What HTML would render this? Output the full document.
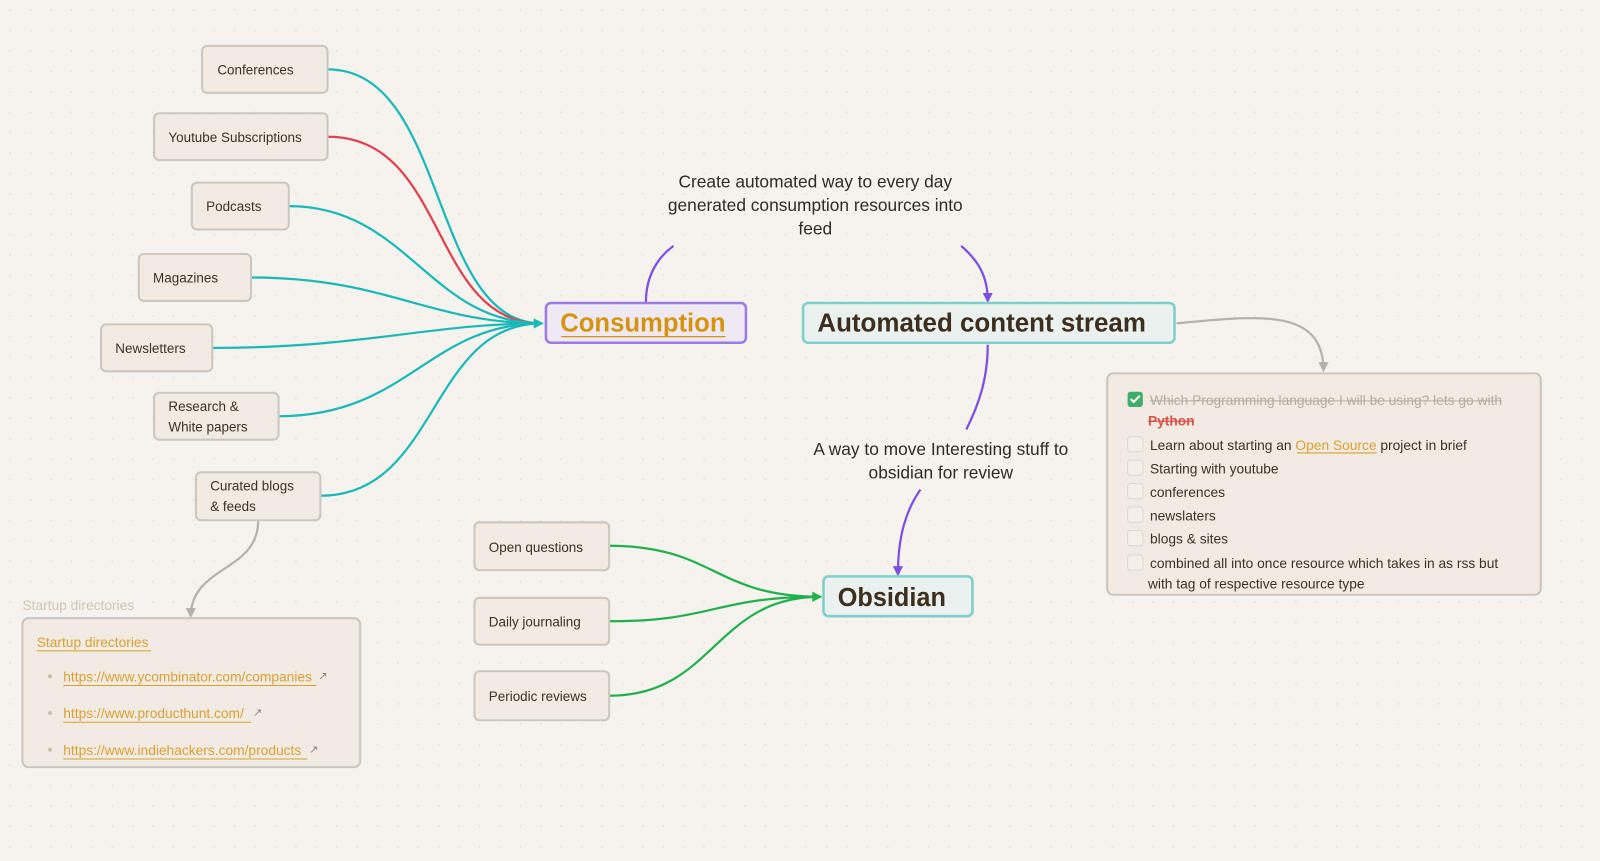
<!DOCTYPE html>
<html><head><meta charset="utf-8"><style>
html,body{margin:0;padding:0;background:#f6f3ee;}
svg{display:block;}
text{font-family:"Liberation Sans",sans-serif;}
</style></head><body>
<svg width="1600" height="861" viewBox="0 0 1568 844" preserveAspectRatio="none" xmlns="http://www.w3.org/2000/svg">
<defs>
<pattern id="dots" width="20" height="20" patternUnits="userSpaceOnUse"><circle cx="10" cy="10" r="0.8" fill="#e2ddd5"/></pattern>
<marker id="ac" markerWidth="10" markerHeight="10" refX="8" refY="5" orient="auto" markerUnits="userSpaceOnUse"><path d="M0,0 L10,5 L0,10 z" fill="#1bb8b8"/></marker>
<marker id="ag" markerWidth="10" markerHeight="10" refX="8" refY="5" orient="auto" markerUnits="userSpaceOnUse"><path d="M0,0 L10,5 L0,10 z" fill="#22b04e"/></marker>
<marker id="ap" markerWidth="10" markerHeight="10" refX="8" refY="5" orient="auto" markerUnits="userSpaceOnUse"><path d="M0,0 L10,5 L0,10 z" fill="#7c4fe0"/></marker>
<marker id="ay" markerWidth="10" markerHeight="10" refX="8" refY="5" orient="auto" markerUnits="userSpaceOnUse"><path d="M0,0 L10,5 L0,10 z" fill="#b5b1ab"/></marker>
</defs>
<rect width="1568" height="844" fill="#f6f3ee"/>
<rect width="1568" height="844" fill="url(#dots)"/>

<g fill="none" stroke-width="2.2">
<path d="M321,68 C440,68 420,317 531,317" stroke="#1bb8b8"/>
<path d="M321,134 C440,134 420,317 531,317" stroke="#e0404e"/>
<path d="M283,202 C400,202 420,317 531,317" stroke="#1bb8b8"/>
<path d="M246,272 C380,272 420,317 531,317" stroke="#1bb8b8"/>
<path d="M208,341 C360,341 420,317 531,317" stroke="#1bb8b8"/>
<path d="M273,408 C400,408 420,317 531,317" stroke="#1bb8b8"/>
<path d="M314,486 C430,486 420,317 531,317" stroke="#1bb8b8" marker-end="url(#ac)"/>
<path d="M597,535 C700,535 700,585 804,585" stroke="#22b04e"/>
<path d="M597,609 C700,609 700,585 804,585" stroke="#22b04e"/>
<path d="M597,682 C700,682 700,585 804,585" stroke="#22b04e" marker-end="url(#ag)"/>
<path d="M633,296 C633,270 645,252 660,241" stroke="#7c4fe0"/>
<path d="M942,241 C958,255 968,270 968,295" stroke="#7c4fe0" marker-end="url(#ap)"/>
<path d="M968,338 C968,370 960,395 947,421" stroke="#7c4fe0"/>
<path d="M902,480 C888,500 880,525 880,563" stroke="#7c4fe0" marker-end="url(#ap)"/>
<path d="M1153,317 C1230,310 1297,300 1297,363" stroke="#b5b1ab" marker-end="url(#ay)"/>
<path d="M253,511 C253,560 187,555 187,604" stroke="#b5b1ab" marker-end="url(#ay)"/>
</g>

<g fill="#f1ebe3" stroke="#cbc6bf" stroke-width="2">
<rect x="198" y="45" width="123" height="46" rx="5"/>
<rect x="151" y="111" width="170" height="46" rx="5"/>
<rect x="188" y="179" width="95" height="46" rx="5"/>
<rect x="136" y="249" width="110" height="46" rx="5"/>
<rect x="99" y="318" width="109" height="46" rx="5"/>
<rect x="151" y="385" width="122" height="46" rx="5"/>
<rect x="192" y="463" width="122" height="47" rx="5"/>
<rect x="465" y="512" width="132" height="47" rx="5"/>
<rect x="465" y="586" width="132" height="46" rx="5"/>
<rect x="465" y="658" width="132" height="48" rx="5"/>
<rect x="1085" y="366" width="425" height="217" rx="6"/>
<rect x="22" y="606" width="331" height="146" rx="6"/>
</g>
<g font-size="13.2" fill="#3d3226">
<text x="213" y="73">Conferences</text>
<text x="165" y="139">Youtube Subscriptions</text>
<text x="202" y="207">Podcasts</text>
<text x="150" y="277">Magazines</text>
<text x="113" y="346">Newsletters</text>
<text x="165" y="403">Research &amp;</text>
<text x="165" y="423">White papers</text>
<text x="206" y="481">Curated blogs</text>
<text x="206" y="501">&amp; feeds</text>
<text x="479" y="541">Open questions</text>
<text x="479" y="614">Daily journaling</text>
<text x="479" y="687">Periodic reviews</text>
</g>

<rect x="535" y="297" width="196" height="39" rx="5" fill="#efe9f3" stroke="#9b7be6" stroke-width="2.5"/>
<text x="630" y="325" text-anchor="middle" font-size="25" font-weight="bold" fill="#d4940f" textLength="162" lengthAdjust="spacingAndGlyphs">Consumption</text>
<line x1="550" y1="330" x2="711" y2="330" stroke="#d4940f" stroke-width="1.2"/>
<rect x="787" y="297" width="364" height="39" rx="5" fill="#eaf1ee" stroke="#7ccfcc" stroke-width="2.5"/>
<text x="962" y="325" text-anchor="middle" font-size="25" font-weight="bold" fill="#3d2e1e" textLength="322" lengthAdjust="spacingAndGlyphs">Automated content stream</text>
<rect x="807" y="565" width="146" height="39" rx="5" fill="#eaf1ee" stroke="#7ccfcc" stroke-width="2.5"/>
<text x="874" y="594" text-anchor="middle" font-size="25" font-weight="bold" fill="#3d2e1e" textLength="106" lengthAdjust="spacingAndGlyphs">Obsidian</text>

<g font-size="17" fill="#2f2a24" text-anchor="middle">
<text x="799" y="184">Create automated way to every day</text>
<text x="799" y="207">generated consumption resources into</text>
<text x="799" y="230">feed</text>
<text x="922" y="446">A way to move Interesting stuff to</text>
<text x="922" y="469">obsidian for review</text>
</g>

<g font-size="13.5" fill="#3d3226">
<rect x="1105" y="384" width="15" height="15" rx="3" fill="#3fae6a"/>
<path d="M1108,391 l3,3 l6,-6" stroke="#fff" stroke-width="2" fill="none"/>
<text x="1127" y="397" fill="#b3aca3">Which Programming language I will be using? lets go with</text>
<line x1="1127" y1="393" x2="1472" y2="393" stroke="#b3aca3"/>
<text x="1125" y="417" fill="#d9534a" font-weight="bold">Python</text>
<line x1="1125" y1="413" x2="1170" y2="413" stroke="#d9534a"/>
<g fill="#f4efe8" stroke="#ddd7cf"><rect x="1105" y="428" width="15" height="15" rx="3"/><rect x="1105" y="451" width="15" height="15" rx="3"/><rect x="1105" y="474" width="15" height="15" rx="3"/><rect x="1105" y="497" width="15" height="15" rx="3"/><rect x="1105" y="520" width="15" height="15" rx="3"/><rect x="1105" y="544" width="15" height="15" rx="3"/></g>
<text x="1127" y="441">Learn about starting an <tspan fill="#d9a030">Open Source</tspan> project in brief</text>
<line x1="1271" y1="444" x2="1349" y2="444" stroke="#d9a030"/>
<text x="1127" y="464">Starting with youtube</text>
<text x="1127" y="487">conferences</text>
<text x="1127" y="510">newslaters</text>
<text x="1127" y="533">blogs &amp; sites</text>
<text x="1127" y="557">combined all into once resource which takes in as rss but</text>
<text x="1125" y="577">with tag of respective resource type</text>
</g>

<g font-size="13.5" fill="#d9a030">
<text x="22" y="598" fill="#cfc5b5">Startup directories</text>
<text x="36" y="634">Startup directories</text>
<line x1="36" y1="638" x2="148" y2="638" stroke="#d9a030"/>
<circle cx="49" cy="663" r="2" fill="#cdbfa8"/><circle cx="49" cy="699" r="2" fill="#cdbfa8"/><circle cx="49" cy="735" r="2" fill="#cdbfa8"/>
<text x="62" y="668">https://www.ycombinator.com/companies</text>
<line x1="62" y1="672" x2="310" y2="672" stroke="#d9a030"/>
<text x="62" y="704">https://www.producthunt.com/</text>
<line x1="62" y1="708" x2="246" y2="708" stroke="#d9a030"/>
<text x="62" y="740">https://www.indiehackers.com/products</text>
<line x1="62" y1="744" x2="301" y2="744" stroke="#d9a030"/>
<g fill="#8a847c" font-size="11"><text x="312" y="666">↗</text><text x="248" y="702">↗</text><text x="303" y="738">↗</text></g>
</g>
</svg>
</body></html>
